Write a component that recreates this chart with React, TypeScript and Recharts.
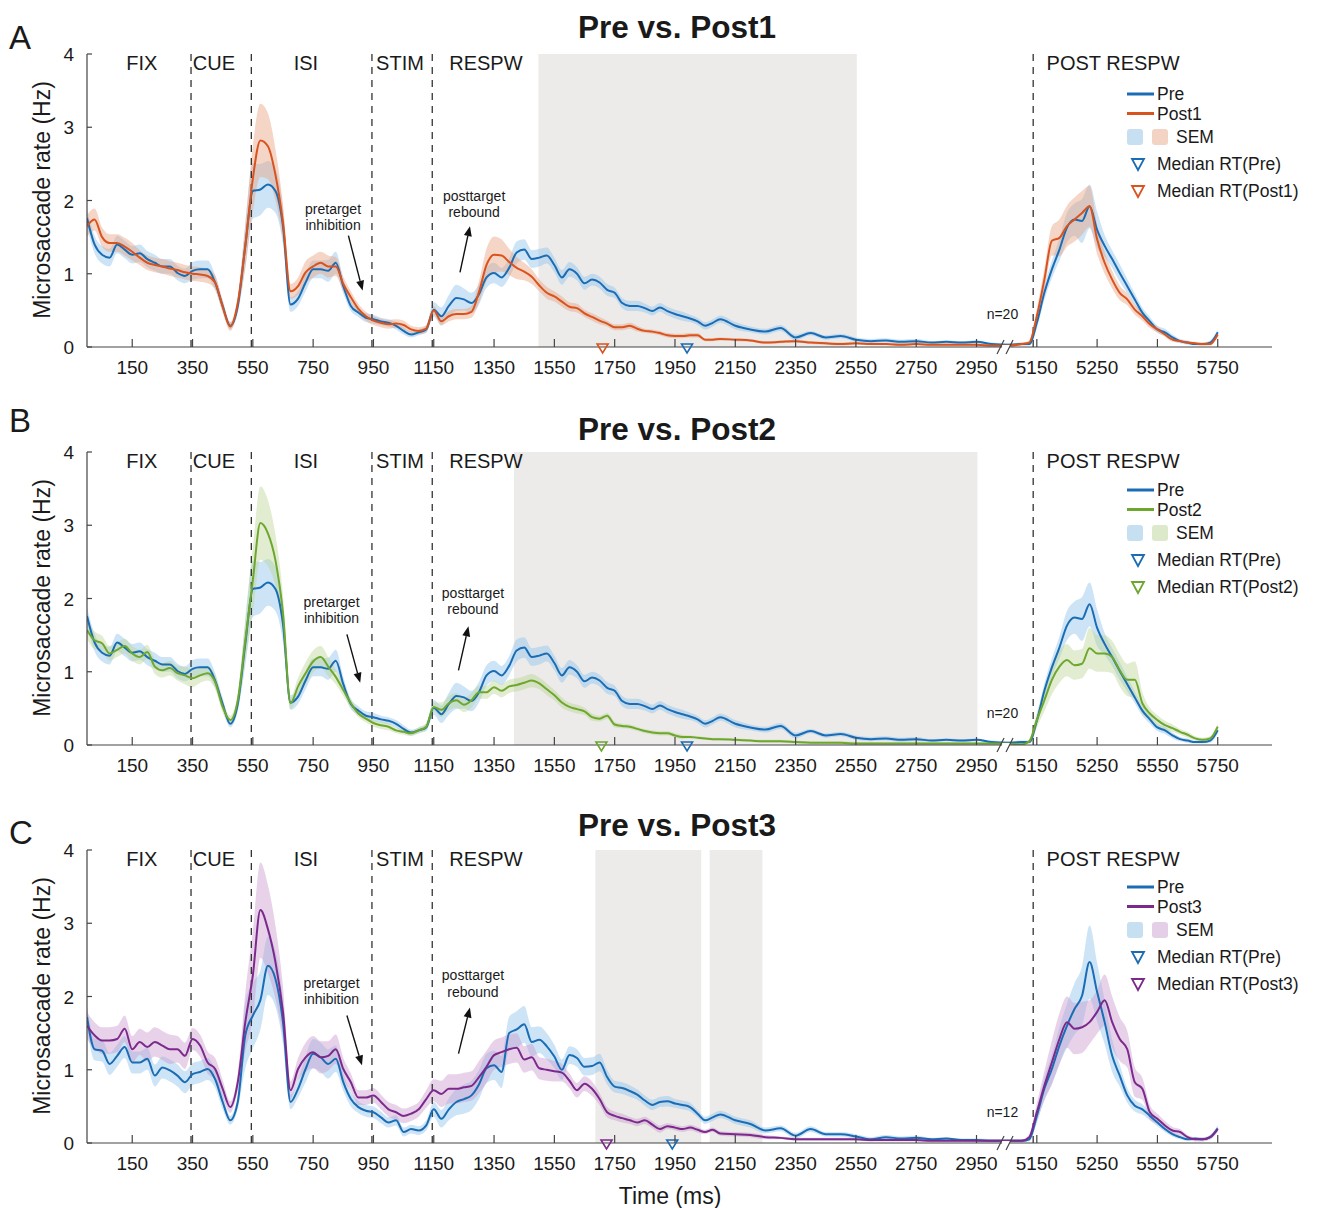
import React from 'react';
import { ComposedChart, Line, Area, XAxis, YAxis, ReferenceLine, ReferenceArea, ReferenceDot } from 'recharts';

const FONT = '"Liberation Sans", Arial, Helvetica, sans-serif';
const TEXT = '#1a1a1a';
const AXIS = '#444444';

// ---------- time grid (ms) ----------
const timeMain = [
  0, 25, 50, 75, 100, 125, 150, 175,
  200, 225, 250, 275, 300, 325, 350, 375,
  400, 425, 450, 475, 500, 525, 550, 575,
  600, 625, 650, 675, 700, 725, 750, 775,
  800, 825, 850, 875, 900, 925, 950, 975,
  1000, 1025, 1050, 1075, 1100, 1125, 1150, 1175,
  1200, 1225, 1250, 1275, 1300, 1325, 1350, 1375,
  1400, 1425, 1450, 1475, 1500, 1525, 1550, 1575,
  1600, 1625, 1650, 1675, 1700, 1725, 1750, 1775,
  1800, 1825, 1850, 1875, 1900, 1925, 1950, 1975,
  2000, 2025, 2050, 2075, 2100,
];
const timeTail = [2150, 2200, 2250, 2300, 2350, 2400, 2450, 2500, 2550, 2600, 2650, 2700, 2750, 2800, 2850, 2900, 2950, 3000, 3050];
const timePost = [5100, 5125, 5150, 5175, 5200, 5225, 5250, 5275, 5300, 5325, 5350, 5375, 5400, 5425, 5450, 5475, 5500, 5525, 5550, 5575, 5600, 5625, 5650, 5675, 5700, 5725, 5750];

// ---------- series (Hz) ----------
const preAB = [
  1.76, 1.40, 1.26, 1.22, 1.40, 1.33, 1.26, 1.28,
  1.20, 1.15, 1.10, 1.10, 1.01, 0.97, 1.04, 1.06,
  1.06, 0.88, 0.56, 0.29, 0.56, 1.38, 2.13, 2.15,
  2.22, 2.13, 1.65, 0.58, 0.66, 0.88, 1.06, 1.06,
  1.04, 1.15, 0.83, 0.56, 0.47, 0.40, 0.38, 0.35,
  0.33, 0.29, 0.22, 0.17, 0.20, 0.24, 0.51, 0.42,
  0.56, 0.67, 0.65, 0.60, 0.72, 0.95, 1.01, 0.95,
  1.08, 1.29, 1.33, 1.20, 1.22, 1.25, 1.12, 0.95,
  1.06, 1.00, 0.87, 0.92, 0.88, 0.78, 0.74, 0.60,
  0.56, 0.56, 0.53, 0.49, 0.54, 0.49, 0.45, 0.42,
  0.39, 0.35, 0.29, 0.33, 0.38,
  0.29, 0.24, 0.21, 0.26, 0.13, 0.19, 0.13, 0.15, 0.10, 0.08, 0.09, 0.07, 0.08, 0.06, 0.07, 0.06, 0.07, 0.04, 0.03,
  0.04, 0.04, 0.33, 0.74, 1.06, 1.33, 1.63, 1.74, 1.72, 1.92, 1.60, 1.38, 1.20, 1.01, 0.83, 0.65, 0.47, 0.35, 0.24, 0.20, 0.13, 0.08, 0.06, 0.04, 0.04, 0.06, 0.20,
];
const post1 = [
  1.65, 1.74, 1.50, 1.42, 1.42, 1.37, 1.30, 1.22,
  1.15, 1.12, 1.10, 1.07, 1.05, 1.02, 1.00, 0.99,
  0.97, 0.88, 0.55, 0.28, 0.60, 1.38, 2.30, 2.82,
  2.74, 2.35, 1.70, 0.76, 0.83, 1.02, 1.10, 1.15,
  1.10, 1.10, 0.86, 0.68, 0.52, 0.42, 0.36, 0.33,
  0.31, 0.32, 0.30, 0.24, 0.22, 0.25, 0.50, 0.35,
  0.42, 0.45, 0.45, 0.48, 0.75, 1.12, 1.26, 1.25,
  1.16, 1.08, 1.03, 0.96, 0.84, 0.74, 0.69, 0.62,
  0.55, 0.53, 0.46, 0.41, 0.36, 0.32, 0.27, 0.27,
  0.29, 0.25, 0.22, 0.21, 0.19, 0.16, 0.15, 0.15,
  0.16, 0.16, 0.10, 0.10, 0.11,
  0.10, 0.09, 0.06, 0.07, 0.08, 0.06, 0.05, 0.04, 0.05, 0.04, 0.04, 0.03, 0.04, 0.03, 0.03, 0.03, 0.03, 0.02, 0.02,
  0.04, 0.06, 0.42, 0.92, 1.45, 1.49, 1.65, 1.74, 1.83, 1.92, 1.47, 1.15, 0.92, 0.74, 0.65, 0.51, 0.42, 0.31, 0.24, 0.17, 0.10, 0.08, 0.06, 0.05, 0.04, 0.04, 0.17,
];
const post2 = [
  1.57, 1.43, 1.39, 1.25, 1.30, 1.35, 1.25, 1.20,
  1.27, 1.07, 1.02, 1.05, 0.98, 0.95, 0.91, 0.95,
  0.98, 0.86, 0.52, 0.34, 0.61, 1.43, 2.25, 3.03,
  2.89, 2.52, 1.80, 0.57, 0.80, 0.98, 1.14, 1.20,
  1.07, 0.93, 0.75, 0.57, 0.43, 0.36, 0.30, 0.27,
  0.25, 0.20, 0.18, 0.16, 0.20, 0.25, 0.52, 0.48,
  0.57, 0.61, 0.55, 0.61, 0.72, 0.72, 0.79, 0.74,
  0.80, 0.82, 0.85, 0.88, 0.84, 0.76, 0.68, 0.58,
  0.52, 0.49, 0.46, 0.38, 0.36, 0.40, 0.28, 0.26,
  0.25, 0.22, 0.19, 0.17, 0.16, 0.16, 0.13, 0.11,
  0.11, 0.10, 0.09, 0.08, 0.08,
  0.07, 0.06, 0.05, 0.05, 0.04, 0.03, 0.03, 0.03, 0.02, 0.02, 0.02, 0.02, 0.02, 0.02, 0.02, 0.02, 0.02, 0.02, 0.02,
  0.01, 0.05, 0.34, 0.61, 0.89, 1.07, 1.16, 1.09, 1.11, 1.32, 1.25, 1.25, 1.20, 1.02, 0.89, 0.89, 0.57, 0.43, 0.34, 0.27, 0.23, 0.18, 0.14, 0.09, 0.07, 0.09, 0.25,
];
const preC = [
  1.72, 1.28, 1.26, 1.08, 1.19, 1.31, 1.10, 1.10,
  1.15, 0.92, 1.03, 0.99, 0.92, 0.83, 0.94, 0.97,
  1.01, 0.87, 0.56, 0.31, 0.56, 1.47, 1.74, 1.95,
  2.42, 2.24, 1.65, 0.56, 0.74, 1.01, 1.22, 1.17,
  1.08, 1.15, 0.83, 0.60, 0.49, 0.44, 0.42, 0.35,
  0.28, 0.31, 0.15, 0.19, 0.17, 0.24, 0.46, 0.33,
  0.46, 0.56, 0.60, 0.65, 0.80, 1.02, 1.06, 0.97,
  1.50, 1.55, 1.62, 1.38, 1.41, 1.32, 1.18, 1.00,
  1.20, 1.16, 1.04, 1.05, 1.10, 0.90, 0.77, 0.75,
  0.71, 0.66, 0.58, 0.52, 0.56, 0.57, 0.54, 0.52,
  0.49, 0.40, 0.31, 0.35, 0.39,
  0.31, 0.26, 0.17, 0.20, 0.10, 0.19, 0.12, 0.12, 0.09, 0.05, 0.08, 0.06, 0.07, 0.05, 0.06, 0.04, 0.04, 0.03, 0.03,
  0.03, 0.05, 0.37, 0.74, 1.01, 1.33, 1.60, 1.83, 2.01, 2.47, 2.06, 1.65, 1.19, 0.92, 0.65, 0.51, 0.46, 0.37, 0.28, 0.19, 0.12, 0.08, 0.05, 0.06, 0.05, 0.08, 0.20,
];
const post3 = [
  1.60, 1.47, 1.40, 1.40, 1.42, 1.56, 1.28, 1.38,
  1.31, 1.38, 1.33, 1.28, 1.28, 1.19, 1.42, 1.33,
  1.10, 1.01, 0.74, 0.49, 0.83, 1.65, 2.29, 3.18,
  2.92, 2.47, 1.79, 0.72, 1.01, 1.17, 1.24, 1.17,
  1.19, 1.28, 1.01, 0.83, 0.62, 0.62, 0.65, 0.56,
  0.46, 0.42, 0.37, 0.40, 0.46, 0.60, 0.72, 0.67,
  0.74, 0.74, 0.76, 0.78, 0.90, 1.04, 1.20, 1.24,
  1.28, 1.30, 1.14, 1.17, 1.02, 1.00, 0.98, 0.96,
  0.85, 0.72, 0.81, 0.74, 0.60, 0.42, 0.37, 0.34,
  0.31, 0.28, 0.31, 0.25, 0.19, 0.23, 0.21, 0.19,
  0.21, 0.18, 0.15, 0.18, 0.13,
  0.12, 0.11, 0.08, 0.07, 0.05, 0.05, 0.05, 0.05, 0.05, 0.04, 0.04, 0.04, 0.04, 0.03, 0.03, 0.03, 0.03, 0.03, 0.03,
  0.03, 0.08, 0.42, 0.78, 1.10, 1.42, 1.65, 1.56, 1.58, 1.65, 1.79, 1.95, 1.65, 1.42, 1.28, 0.83, 0.74, 0.42, 0.33, 0.24, 0.17, 0.15, 0.08, 0.05, 0.05, 0.08, 0.19,
];

// ---------- SEM half-widths (Hz) ----------
const semPreAB = [
  0.12, 0.12, 0.12, 0.12, 0.12, 0.12, 0.12, 0.12,
  0.11, 0.11, 0.10, 0.10, 0.10, 0.10, 0.12, 0.12,
  0.12, 0.10, 0.08, 0.05, 0.10, 0.30, 0.38, 0.35,
  0.32, 0.30, 0.25, 0.10, 0.10, 0.12, 0.12, 0.12,
  0.15, 0.15, 0.10, 0.07, 0.06, 0.06, 0.06, 0.05,
  0.05, 0.05, 0.05, 0.04, 0.04, 0.05, 0.10, 0.12,
  0.15, 0.18, 0.15, 0.14, 0.14, 0.14, 0.14, 0.13,
  0.13, 0.15, 0.14, 0.12, 0.12, 0.11, 0.10, 0.10,
  0.10, 0.09, 0.09, 0.08, 0.08, 0.08, 0.07, 0.07,
  0.07, 0.07, 0.06, 0.06, 0.06, 0.06, 0.06, 0.06,
  0.05, 0.05, 0.05, 0.05, 0.05,
  0.05, 0.04, 0.04, 0.04, 0.04, 0.03, 0.03, 0.03, 0.03, 0.03, 0.03, 0.03, 0.03, 0.02, 0.02, 0.02, 0.02, 0.02, 0.02,
  0.02, 0.02, 0.08, 0.10, 0.12, 0.15, 0.20, 0.22, 0.30, 0.30, 0.25, 0.15, 0.12, 0.12, 0.10, 0.08, 0.07, 0.06, 0.05, 0.05, 0.04, 0.03, 0.03, 0.02, 0.02, 0.03, 0.04,
];
const semPost1 = [
  0.15, 0.15, 0.13, 0.12, 0.12, 0.12, 0.12, 0.10,
  0.10, 0.10, 0.10, 0.10, 0.10, 0.10, 0.10, 0.10,
  0.10, 0.10, 0.08, 0.06, 0.10, 0.30, 0.45, 0.50,
  0.45, 0.35, 0.25, 0.10, 0.12, 0.15, 0.15, 0.15,
  0.15, 0.13, 0.10, 0.08, 0.07, 0.06, 0.06, 0.06,
  0.06, 0.06, 0.06, 0.05, 0.05, 0.05, 0.06, 0.06,
  0.07, 0.07, 0.07, 0.08, 0.15, 0.22, 0.25, 0.22,
  0.18, 0.15, 0.12, 0.10, 0.08, 0.08, 0.07, 0.07,
  0.06, 0.06, 0.05, 0.05, 0.05, 0.04, 0.04, 0.04,
  0.04, 0.04, 0.03, 0.03, 0.03, 0.03, 0.03, 0.03,
  0.03, 0.03, 0.02, 0.02, 0.02,
  0.02, 0.02, 0.02, 0.02, 0.02, 0.02, 0.02, 0.02, 0.02, 0.02, 0.02, 0.02, 0.02, 0.02, 0.02, 0.02, 0.02, 0.02, 0.02,
  0.02, 0.03, 0.10, 0.15, 0.20, 0.25, 0.28, 0.30, 0.30, 0.28, 0.20, 0.15, 0.12, 0.10, 0.08, 0.07, 0.06, 0.05, 0.04, 0.03, 0.03, 0.02, 0.02, 0.02, 0.02, 0.02, 0.03,
];
const semPost2 = [
  0.12, 0.12, 0.10, 0.10, 0.10, 0.10, 0.10, 0.10,
  0.10, 0.10, 0.10, 0.10, 0.10, 0.12, 0.12, 0.10,
  0.10, 0.10, 0.08, 0.06, 0.10, 0.30, 0.45, 0.50,
  0.45, 0.35, 0.25, 0.08, 0.12, 0.15, 0.15, 0.15,
  0.13, 0.10, 0.08, 0.06, 0.05, 0.05, 0.05, 0.05,
  0.05, 0.04, 0.04, 0.04, 0.04, 0.05, 0.06, 0.10,
  0.10, 0.10, 0.10, 0.10, 0.09, 0.09, 0.09, 0.09,
  0.09, 0.09, 0.09, 0.09, 0.08, 0.08, 0.07, 0.07,
  0.06, 0.06, 0.05, 0.05, 0.04, 0.04, 0.04, 0.03,
  0.03, 0.03, 0.03, 0.03, 0.03, 0.03, 0.03, 0.03,
  0.02, 0.02, 0.02, 0.02, 0.02,
  0.02, 0.02, 0.02, 0.02, 0.02, 0.02, 0.02, 0.02, 0.02, 0.02, 0.02, 0.02, 0.02, 0.02, 0.02, 0.02, 0.02, 0.02, 0.02,
  0.02, 0.03, 0.10, 0.15, 0.20, 0.22, 0.22, 0.20, 0.20, 0.28, 0.25, 0.25, 0.22, 0.22, 0.22, 0.25, 0.15, 0.08, 0.07, 0.06, 0.05, 0.04, 0.04, 0.03, 0.03, 0.03, 0.04,
];
const semPreC = [
  0.15, 0.15, 0.15, 0.15, 0.15, 0.15, 0.15, 0.15,
  0.15, 0.15, 0.15, 0.15, 0.15, 0.15, 0.15, 0.15,
  0.15, 0.12, 0.10, 0.06, 0.10, 0.45, 0.45, 0.40,
  0.40, 0.38, 0.30, 0.10, 0.12, 0.18, 0.20, 0.20,
  0.20, 0.18, 0.12, 0.10, 0.08, 0.08, 0.08, 0.08,
  0.07, 0.07, 0.06, 0.06, 0.06, 0.07, 0.10, 0.12,
  0.15, 0.18, 0.20, 0.20, 0.20, 0.20, 0.20, 0.22,
  0.22, 0.25, 0.25, 0.20, 0.18, 0.18, 0.16, 0.14,
  0.12, 0.12, 0.12, 0.12, 0.12, 0.10, 0.08, 0.08,
  0.08, 0.07, 0.07, 0.07, 0.07, 0.07, 0.06, 0.06,
  0.06, 0.05, 0.05, 0.05, 0.05,
  0.05, 0.05, 0.04, 0.04, 0.04, 0.04, 0.03, 0.03, 0.03, 0.03, 0.03, 0.03, 0.03, 0.02, 0.02, 0.02, 0.02, 0.02, 0.02,
  0.02, 0.03, 0.10, 0.15, 0.20, 0.25, 0.30, 0.35, 0.40, 0.50, 0.40, 0.30, 0.22, 0.15, 0.10, 0.08, 0.07, 0.06, 0.05, 0.04, 0.03, 0.03, 0.02, 0.02, 0.02, 0.03, 0.04,
];
const semPost3 = [
  0.18, 0.18, 0.18, 0.18, 0.18, 0.18, 0.18, 0.18,
  0.20, 0.20, 0.20, 0.20, 0.18, 0.18, 0.15, 0.15,
  0.15, 0.15, 0.12, 0.08, 0.12, 0.40, 0.60, 0.65,
  0.60, 0.50, 0.35, 0.12, 0.15, 0.20, 0.22, 0.22,
  0.20, 0.20, 0.15, 0.12, 0.10, 0.10, 0.10, 0.10,
  0.10, 0.10, 0.10, 0.10, 0.10, 0.12, 0.15, 0.18,
  0.20, 0.20, 0.20, 0.20, 0.22, 0.22, 0.20, 0.20,
  0.20, 0.20, 0.18, 0.18, 0.15, 0.15, 0.14, 0.12,
  0.10, 0.10, 0.10, 0.10, 0.08, 0.07, 0.06, 0.06,
  0.05, 0.05, 0.05, 0.05, 0.05, 0.04, 0.04, 0.04,
  0.04, 0.04, 0.03, 0.03, 0.03,
  0.03, 0.03, 0.03, 0.02, 0.02, 0.02, 0.02, 0.02, 0.02, 0.02, 0.02, 0.02, 0.02, 0.02, 0.02, 0.02, 0.02, 0.02, 0.02,
  0.02, 0.04, 0.12, 0.20, 0.30, 0.35, 0.35, 0.35, 0.35, 0.30, 0.30, 0.35, 0.35, 0.30, 0.25, 0.20, 0.15, 0.10, 0.07, 0.06, 0.05, 0.04, 0.03, 0.03, 0.03, 0.03, 0.04,
];

// ---------- axes / annotations ----------
const xTickTimes = [150, 350, 550, 750, 950, 1150, 1350, 1550, 1750, 1950, 2150, 2350, 2550, 2750, 2950, 5150, 5350, 5550, 5750];
const xTickLabels = ['150', '350', '550', '750', '950', '1150', '1350', '1550', '1750', '1950', '2150', '2350', '2550', '2750', '2950', '5150', '5250', '5550', '5750'];
const yTicks = [0, 1, 2, 3, 4];
const epochBoundaries = [345, 545, 945, 1145, 5138];
const epochLabels = ['FIX', 'CUE', 'ISI', 'STIM', 'RESPW', 'POST RESPW'];
const epochLabelTimes = [182, 421, 726, 1038, 1323, 5403];
const shadeA = [[1497, 2553]];
const shadeB = [[1416, 2953]];
const shadeC = [[1686, 2037], [2065, 2240]];
const medianRTPre = [1990, 1990, 1941];
const medianRTPost = [1710, 1706, 1723];
const sampleSizes = ['n=20', 'n=20', 'n=12'];

const BREAK_GAP = 2000;
const toPos = (t: number) => (t >= 5000 ? t - BREAK_GAP : t);
const allTimes = [...timeMain, ...timeTail, ...timePost];
const xTickPos = xTickTimes.map(toPos);

const PRE_COLOR = '#1a6cb5';
const PRE_SEM = '#8ec3ea';
const PRE_SEM_SOLID = '#c6dff1';

type Annot = { tx: number; ty1: number; ty2: number; ax1: number; ay1: number; ax2: number; ay2: number };

const panels = [
  {
    letter: 'A', title: 'Pre vs. Post1', top: 0, legendY: 94, postName: 'Post1',
    pre: preAB, post: post1, preSem: semPreAB, postSem: semPost1,
    color: '#d9531e', sem: '#e8a181', semSolid: '#f3d3c4', shades: shadeA,
    mPre: medianRTPre[0], mPost: medianRTPost[0], n: sampleSizes[0], nY: 0.45,
    pretarget: { tx: 816, ty1: 1.88, ty2: 1.66, ax1: 867, ay1: 1.52, ax2: 914, ay2: 0.77 } as Annot,
    posttarget: { tx: 1284, ty1: 2.06, ty2: 1.84, ax1: 1237, ay1: 1.02, ax2: 1270, ay2: 1.65 } as Annot,
  },
  {
    letter: 'B', title: 'Pre vs. Post2', top: 398, legendY: 490, postName: 'Post2',
    pre: preAB, post: post2, preSem: semPreAB, postSem: semPost2,
    color: '#6da72e', sem: '#bcd596', semSolid: '#dde9cb', shades: shadeB,
    mPre: medianRTPre[1], mPost: medianRTPost[1], n: sampleSizes[1], nY: 0.44,
    pretarget: { tx: 811, ty1: 1.95, ty2: 1.73, ax1: 862, ay1: 1.51, ax2: 906, ay2: 0.85 } as Annot,
    posttarget: { tx: 1280, ty1: 2.07, ty2: 1.85, ax1: 1232, ay1: 1.02, ax2: 1265, ay2: 1.62 } as Annot,
  },
  {
    letter: 'C', title: 'Pre vs. Post3', top: 796, legendY: 887, postName: 'Post3',
    pre: preC, post: post3, preSem: semPreC, postSem: semPost3,
    color: '#7b2a8c', sem: '#c99bcf', semSolid: '#e4d0e6', shades: shadeC,
    mPre: medianRTPre[2], mPost: medianRTPost[2], n: sampleSizes[2], nY: 0.43,
    pretarget: { tx: 811, ty1: 2.19, ty2: 1.97, ax1: 862, ay1: 1.74, ax2: 912, ay2: 1.06 } as Annot,
    posttarget: { tx: 1280, ty1: 2.29, ty2: 2.06, ax1: 1232, ay1: 1.22, ax2: 1270, ay2: 1.85 } as Annot,
  },
];

function buildRows(pre: number[], post: number[], preSem: number[], postSem: number[]) {
  const rows: any[] = [];
  allTimes.forEach((t, i) => {
    const a = pre[i];
    const b = post[i];
    if (a === undefined || b === undefined) return;
    const sa = preSem[i] ?? 0;
    const sb = postSem[i] ?? 0;
    rows.push({
      p: toPos(t),
      pre: a,
      post: b,
      preBand: [Math.max(0, a - sa), a + sa],
      postBand: [Math.max(0, b - sb), b + sb],
    });
  });
  return rows;
}

const XTick = (props: any) => {
  const { x, y, payload } = props;
  const idx = xTickPos.indexOf(payload.value);
  const label = idx >= 0 ? xTickLabels[idx] : String(payload.value);
  return (
    <g>
      <line x1={x} x2={x} y1={y} y2={y - 8} stroke={AXIS} strokeWidth={1.2} />
      <text x={x} y={y + 27} textAnchor="middle" fontSize={19} fill={TEXT} fontFamily={FONT}>{label}</text>
    </g>
  );
};

const YTick = (props: any) => {
  const { x, y, payload } = props;
  return (
    <g>
      <line x1={x} x2={x + 5} y1={y} y2={y} stroke={AXIS} strokeWidth={1.2} />
      <text x={x - 13} y={y + 7} textAnchor="end" fontSize={19} fill={TEXT} fontFamily={FONT}>{payload.value}</text>
    </g>
  );
};

const ArrowShape = (props: any) => {
  const { x1, y1, x2, y2 } = props;
  const dx = x2 - x1, dy = y2 - y1;
  const len = Math.hypot(dx, dy) || 1;
  const ux = dx / len, uy = dy / len;
  const hl = 10, hw = 4;
  const bx = x2 - ux * hl, by = y2 - uy * hl;
  const px = -uy, py = ux;
  return (
    <g>
      <line x1={x1} y1={y1} x2={bx} y2={by} stroke="#111" strokeWidth={1.4} />
      <polygon points={`${x2},${y2} ${bx + px * hw},${by + py * hw} ${bx - px * hw},${by - py * hw}`} fill="#111" />
    </g>
  );
};

const textShape = (label: string, size: number, anchor: string = 'middle') => (props: any) => (
  <text x={props.cx} y={props.cy} textAnchor={anchor} dominantBaseline="central" fontSize={size} fill={TEXT} fontFamily={FONT}>{label}</text>
);

const triangleShape = (color: string) => (props: any) => {
  const { cx, cy } = props;
  return <polygon points={`${cx - 5.5},${cy - 3} ${cx + 5.5},${cy - 3} ${cx},${cy + 6}`} fill="none" stroke={color} strokeWidth={1.6} />;
};

const breakShape = (props: any) => {
  const { cx, cy } = props;
  return (
    <g>
      <rect x={cx - 4} y={cy - 2} width={8} height={4} fill="#fff" />
      <line x1={cx - 9} y1={cy + 7} x2={cx - 2} y2={cy - 7} stroke={AXIS} strokeWidth={1.2} />
      <line x1={cx} y1={cy + 7} x2={cx + 7} y2={cy - 7} stroke={AXIS} strokeWidth={1.2} />
    </g>
  );
};

function Panel({ cfg }: { cfg: any }) {
  const data = buildRows(cfg.pre, cfg.post, cfg.preSem, cfg.postSem);
  const a1: Annot = cfg.pretarget;
  const a2: Annot = cfg.posttarget;
  return (
    <div style={{ position: 'absolute', left: 0, top: cfg.top, width: 1320, height: 400 }}>
      <ComposedChart width={1320} height={400} data={data} margin={{ top: 54, right: 48, bottom: 23, left: 37 }}>
        <XAxis
          dataKey="p" type="number" domain={[0, 3930]} ticks={xTickPos} interval={0} allowDataOverflow
          tickLine={false} tickSize={0} tickMargin={0} height={30}
          axisLine={{ stroke: AXIS, strokeWidth: 1.2 }} tick={XTick}
        />
        <YAxis
          type="number" domain={[0, 4]} ticks={yTicks} interval={0} width={50} allowDataOverflow
          tickLine={false} tickSize={0} tickMargin={0}
          axisLine={{ stroke: AXIS, strokeWidth: 1.2 }} tick={YTick}
        />
        {cfg.shades.map((s: number[], i: number) => (
          <ReferenceArea key={'s' + i} x1={s[0]} x2={s[1]} y1={0} y2={4} fill="#ecebea" fillOpacity={1} stroke="none" ifOverflow="visible" />
        ))}
        <Area type="monotone" dataKey="preBand" stroke="none" fill={PRE_SEM} fillOpacity={0.45} isAnimationActive={false} dot={false} activeDot={false} />
        <Area type="monotone" dataKey="postBand" stroke="none" fill={cfg.sem} fillOpacity={0.45} isAnimationActive={false} dot={false} activeDot={false} />
        {epochBoundaries.map((t, i) => (
          <ReferenceLine key={'e' + i} x={toPos(t)} stroke="#333" strokeWidth={1.3} strokeDasharray="7 6" />
        ))}
        <Line type="monotone" dataKey="pre" stroke={PRE_COLOR} strokeWidth={2} dot={false} activeDot={false} isAnimationActive={false} />
        <Line type="monotone" dataKey="post" stroke={cfg.color} strokeWidth={2} dot={false} activeDot={false} isAnimationActive={false} />
        {epochLabels.map((lab, i) => (
          <ReferenceDot key={'l' + i} x={toPos(epochLabelTimes[i])} y={3.88} r={1} shape={textShape(lab, 20)} />
        ))}
        <ReferenceDot x={a1.tx} y={a1.ty1} r={1} shape={textShape('pretarget', 14)} />
        <ReferenceDot x={a1.tx} y={a1.ty2} r={1} shape={textShape('inhibition', 14)} />
        <ReferenceLine segment={[{ x: a1.ax1, y: a1.ay1 }, { x: a1.ax2, y: a1.ay2 }]} shape={ArrowShape} />
        <ReferenceDot x={a2.tx} y={a2.ty1} r={1} shape={textShape('posttarget', 14)} />
        <ReferenceDot x={a2.tx} y={a2.ty2} r={1} shape={textShape('rebound', 14)} />
        <ReferenceLine segment={[{ x: a2.ax1, y: a2.ay1 }, { x: a2.ax2, y: a2.ay2 }]} shape={ArrowShape} />
        <ReferenceDot x={3036} y={cfg.nY} r={1} shape={textShape(cfg.n, 14)} />
        <ReferenceDot x={3048} y={0} r={1} shape={breakShape} />
        <ReferenceDot x={cfg.mPost} y={0} r={1} shape={triangleShape(cfg.color)} />
        <ReferenceDot x={cfg.mPre} y={0} r={1} shape={triangleShape(PRE_COLOR)} />
      </ComposedChart>
    </div>
  );
}

function LegendBlock({ y0, postName, color, semSolid }: any) {
  const x0 = 1127;
  const tx = 1157;
  const fs = 17.5;
  const rows = [0, 19.5, 43, 70, 97];
  return (
    <g fontFamily={FONT} fontSize={fs} fill={TEXT}>
      <line x1={x0} x2={x0 + 27} y1={y0 + rows[0]} y2={y0 + rows[0]} stroke={PRE_COLOR} strokeWidth={3} />
      <text x={tx} y={y0 + rows[0]} dominantBaseline="central">Pre</text>
      <line x1={x0} x2={x0 + 27} y1={y0 + rows[1]} y2={y0 + rows[1]} stroke={color} strokeWidth={3} />
      <text x={tx} y={y0 + rows[1]} dominantBaseline="central">{postName}</text>
      <rect x={x0} y={y0 + rows[2] - 8} width={16} height={16} rx={3} fill={PRE_SEM_SOLID} />
      <rect x={x0 + 25} y={y0 + rows[2] - 8} width={16} height={16} rx={3} fill={semSolid} />
      <text x={x0 + 49} y={y0 + rows[2]} dominantBaseline="central">SEM</text>
      <polygon points={`${x0 + 5},${y0 + rows[3] - 5} ${x0 + 17},${y0 + rows[3] - 5} ${x0 + 11},${y0 + rows[3] + 6}`} fill="none" stroke={PRE_COLOR} strokeWidth={1.8} />
      <text x={tx} y={y0 + rows[3]} dominantBaseline="central">Median RT(Pre)</text>
      <polygon points={`${x0 + 5},${y0 + rows[4] - 5} ${x0 + 17},${y0 + rows[4] - 5} ${x0 + 11},${y0 + rows[4] + 6}`} fill="none" stroke={color} strokeWidth={1.8} />
      <text x={tx} y={y0 + rows[4]} dominantBaseline="central">{`Median RT(${postName})`}</text>
    </g>
  );
}

export default function App() {
  const titleY = [38, 440, 836];
  const letterY = [49, 432, 844];
  return (
    <div style={{ position: 'absolute', left: 0, top: 0, width: 1320, height: 1208, background: '#ffffff', fontFamily: FONT, overflow: 'hidden' }}>
      {panels.map((cfg) => (
        <Panel key={cfg.letter} cfg={cfg} />
      ))}
      <svg width={1320} height={1208} style={{ position: 'absolute', left: 0, top: 0, pointerEvents: 'none' }}>
        {panels.map((cfg, i) => (
          <g key={'o' + i}>
            <text x={677} y={titleY[i]} textAnchor="middle" fontSize={31.5} fontWeight="bold" fill={TEXT} fontFamily={FONT}>{cfg.title}</text>
            <text x={9} y={letterY[i]} fontSize={33} fill={TEXT} fontFamily={FONT}>{cfg.letter}</text>
            <text transform={`translate(42,${cfg.top + 200}) rotate(-90)`} textAnchor="middle" dominantBaseline="central" fontSize={23} fill={TEXT} fontFamily={FONT}>Microsaccade rate (Hz)</text>
            <LegendBlock y0={cfg.legendY} postName={cfg.postName} color={cfg.color} semSolid={cfg.semSolid} />
          </g>
        ))}
        <text x={670} y={1196} textAnchor="middle" dominantBaseline="central" fontSize={23} fill={TEXT} fontFamily={FONT}>Time (ms)</text>
      </svg>
    </div>
  );
}
